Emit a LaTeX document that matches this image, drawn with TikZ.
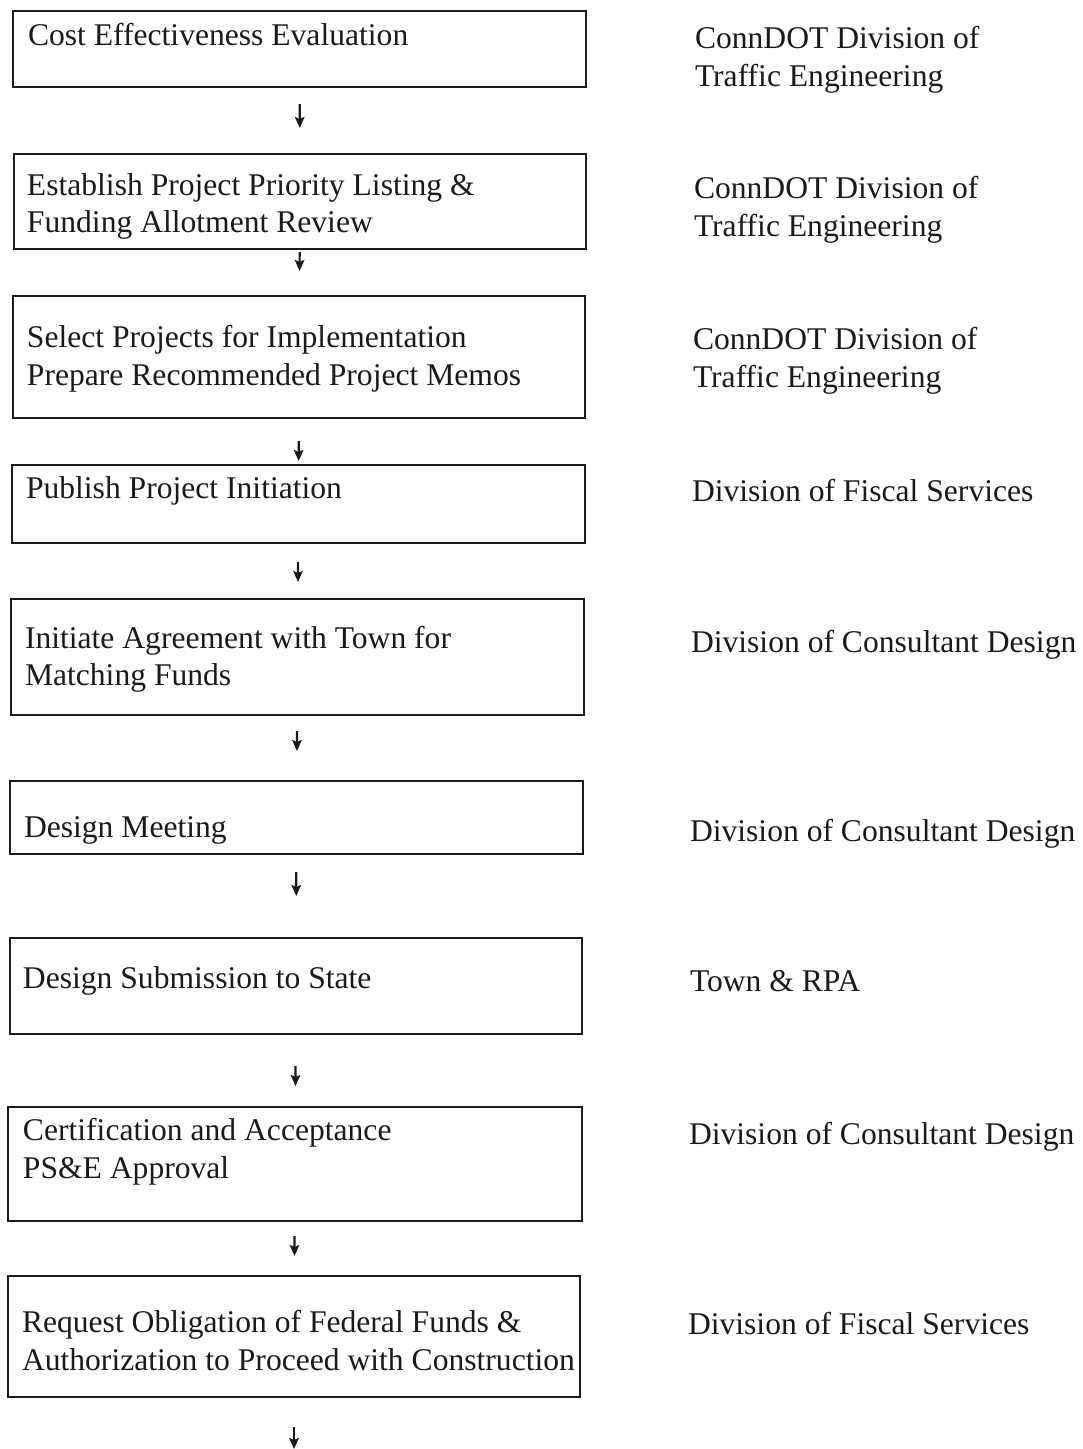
\documentclass[tikz,border=0pt]{standalone}
\usepackage{fontspec}
\setmainfont{Liberation Serif}
\usetikzlibrary{arrows.meta}
\definecolor{ink}{HTML}{1A1A1A}
\tikzset{
  box/.style={draw=ink, line width=1.8pt, rectangle, inner sep=0pt, outer sep=0pt},
  txt/.style={anchor=base west, inner sep=0pt, outer sep=0pt, text=ink,
              font=\fontsize{31.6}{37.5}\selectfont},
  arr/.style={draw=ink, line width=2.2pt, -{Stealth[length=11pt,width=9.5pt,inset=2pt]}}
}
\begin{document}
\begin{tikzpicture}[x=1pt,y=-1pt]
\useasboundingbox (0,0) rectangle (1083,1449);
% boxes
\node[box, minimum width=573pt, minimum height=76pt]  (b1) at (299.5,49) {};
\node[box, minimum width=572pt, minimum height=95pt]  (b2) at (300,201.5) {};
\node[box, minimum width=572pt, minimum height=122pt] (b3) at (299,357) {};
\node[box, minimum width=573pt, minimum height=78pt]  (b4) at (298.5,504) {};
\node[box, minimum width=573pt, minimum height=116pt] (b5) at (297.5,657) {};
\node[box, minimum width=573pt, minimum height=73pt]  (b6) at (296.5,817.5) {};
\node[box, minimum width=572pt, minimum height=96pt]  (b7) at (296,986) {};
\node[box, minimum width=574pt, minimum height=114pt] (b8) at (295,1164) {};
\node[box, minimum width=572pt, minimum height=121pt] (b9) at (294,1336.5) {};
\coordinate (end) at (294,1449);
% box texts
\node[txt] (t1a) at (28,45)  {Cost Effectiveness Evaluation};
\node[txt] (t2a) at (27,195) {Establish Project Priority Listing \&};
\node[txt] (t2b) at (27,232) {Funding Allotment Review};
\node[txt] (t3a) at (27,347) {Select Projects for Implementation};
\node[txt] (t3b) at (27,385) {Prepare Recommended Project Memos};
\node[txt] (t4a) at (26,498) {Publish Project Initiation};
\node[txt] (t5a) at (25,648) {Initiate Agreement with Town for};
\node[txt] (t5b) at (25,685) {Matching Funds};
\node[txt] (t6a) at (24,837) {Design Meeting};
\node[txt] (t7a) at (23,988) {Design Submission to State};
\node[txt] (t8a) at (23,1140) {Certification and Acceptance};
\node[txt] (t8b) at (23,1178) {PS\&E Approval};
\node[txt] (t9a) at (22,1332) {Request Obligation of Federal Funds \&};
\node[txt] (t9b) at (22,1370) {Authorization to Proceed with Construction};
% responsible units
\node[txt] (r1a) at (695,48)  {ConnDOT Division of};
\node[txt] (r1b) at (695,86)  {Traffic Engineering};
\node[txt] (r2a) at (694,198) {ConnDOT Division of};
\node[txt] (r2b) at (694,236) {Traffic Engineering};
\node[txt] (r3a) at (693,349) {ConnDOT Division of};
\node[txt] (r3b) at (693,387) {Traffic Engineering};
\node[txt] (r4a) at (692,501) {Division of Fiscal Services};
\node[txt] (r5a) at (691,652) {Division of Consultant Design};
\node[txt] (r6a) at (690,841) {Division of Consultant Design};
\node[txt] (r7a) at (690,991) {Town \& RPA};
\node[txt] (r8a) at (689,1144) {Division of Consultant Design};
\node[txt] (r9a) at (688,1334) {Division of Fiscal Services};
% connectors
\draw[arr, shorten <=17pt, shorten >=26pt] (b1) -- (b2);
\draw[arr, shorten <=3pt,  shorten >=25pt] (b2) -- (b3);
\draw[arr, shorten <=23pt, shorten >=4pt]  (b3) -- (b4);
\draw[arr, shorten <=19pt, shorten >=17pt] (b4) -- (b5);
\draw[arr, shorten <=16pt, shorten >=30pt] (b5) -- (b6);
\draw[arr, shorten <=18pt, shorten >=42pt] (b6) -- (b7);
\draw[arr, shorten <=32pt, shorten >=21pt] (b7) -- (b8);
\draw[arr, shorten <=15pt, shorten >=20pt] (b8) -- (b9);
\draw[arr, shorten <=30pt] (b9) -- (end);
\end{tikzpicture}
\end{document}
